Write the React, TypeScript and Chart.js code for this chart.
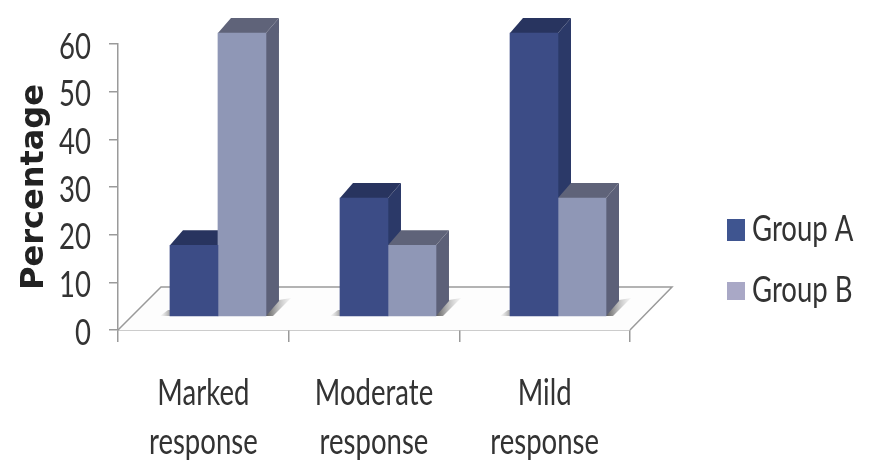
import React, { useEffect, useRef } from "react";
import { Chart, registerables } from "chart.js";

Chart.register(...registerables);

const categories = [
  ["Marked", "response"],
  ["Moderate", "response"],
  ["Mild", "response"],
];
const groupA = [15, 25, 60];
const groupB = [60, 15, 25];
const seriesNames = ["Group A", "Group B"];
const yTicksStep = 10;

const FONT = "Lato, sans-serif";
const TEXT_NARROWING = 0.765;
const TEXT_DROP = 3;
const TEXT = "#333333";
const AXIS = "#9a9a9a";

const FRONT = ["#3c4c86", "#8f97b6"];
const TOP = ["#28345f", "#5f6379"];
const SIDE = ["#2b3968", "#5c6078"];
const MARKER = ["#3f5590", "#a9a8c6"];

const DX = 13;
const DY = -15;
const FLOOR_DX = 43;
const FLOOR_DY = -43;

function poly(ctx: CanvasRenderingContext2D, pts: number[][], fill?: string | CanvasGradient) {
  ctx.beginPath();
  pts.forEach(([x, y], i) => (i ? ctx.lineTo(x, y) : ctx.moveTo(x, y)));
  ctx.closePath();
  if (fill) {
    ctx.fillStyle = fill;
    ctx.fill();
  }
}

// Condensed lettering: no narrow humanist face is available, so Lato runs are squeezed horizontally.
function condenseText(ctx: CanvasRenderingContext2D) {
  const draw = ctx.fillText.bind(ctx);
  ctx.fillText = (text: string, x: number, y: number) => {
    if (!ctx.font.includes("Lato")) {
      draw(text, x, y);
      return;
    }
    ctx.save();
    ctx.translate(x, y + TEXT_DROP);
    ctx.scale(TEXT_NARROWING, 1);
    draw(text, 0, 0);
    ctx.restore();
  };
}

// Floor plane, contact shadows and the extruded faces behind every bar.
const depthPlugin = {
  id: "depth",
  beforeDatasetsDraw(chart: any) {
    const { ctx, chartArea: a } = chart;
    ctx.save();
    poly(
      ctx,
      [
        [a.left, a.bottom],
        [a.left + FLOOR_DX, a.bottom + FLOOR_DY],
        [a.right + FLOOR_DX - 1, a.bottom + FLOOR_DY],
        [a.right, a.bottom],
      ],
      "#fdfdfd"
    );
    ctx.strokeStyle = AXIS;
    ctx.lineWidth = 1.5;
    ctx.beginPath();
    ctx.moveTo(a.left, a.bottom);
    ctx.lineTo(a.left + FLOOR_DX, a.bottom + FLOOR_DY);
    ctx.lineTo(a.right + FLOOR_DX - 1, a.bottom + FLOOR_DY);
    ctx.lineTo(a.right, a.bottom);
    ctx.stroke();

    const metaA = chart.getDatasetMeta(0);
    const metaB = chart.getDatasetMeta(1);
    metaB.data.forEach((bar: any, i: number) => {
      const right = bar.x + bar.width / 2;
      const left = metaA.data[i].x - metaA.data[i].width / 2;
      const base = bar.base;
      const g = ctx.createLinearGradient(right, 0, right + 25, 0);
      g.addColorStop(0, "rgba(70,70,70,0.9)");
      g.addColorStop(1, "rgba(190,190,190,0.15)");
      poly(ctx, [[right - 4, base], [right + 13, base - 16], [right + 25, base - 18], [right + 7, base]], g);
      const g2 = ctx.createLinearGradient(left - 10, 0, left, 0);
      g2.addColorStop(0, "rgba(150,150,150,0)");
      g2.addColorStop(1, "rgba(110,110,110,0.6)");
      poly(ctx, [[left - 10, base], [left - 2, base - 6], [left + 4, base - 6], [left + 4, base]], g2);
    });

    [metaA, metaB].forEach((meta: any, k: number) => {
      meta.data.forEach((bar: any) => {
        const l = bar.x - bar.width / 2;
        const r = bar.x + bar.width / 2;
        const t = bar.y;
        const b = bar.base;
        poly(ctx, [[r, t], [r + DX, t + DY], [r + DX, b + DY], [r, b]], SIDE[k]);
        poly(ctx, [[l, t], [l + DX, t + DY], [r + DX, t + DY], [r, t]], TOP[k]);
      });
    });
    ctx.restore();
  },
};

// Places the legend in the right-hand margin and paints its colour chips.
const legendPlacement = {
  id: "legendPlacement",
  afterLayout(chart: any) {
    const lg = chart.legend;
    if (!lg) return;
    const w = lg.width;
    const h = lg.height;
    lg.left = 708;
    lg.right = 708 + w;
    lg.top = 183;
    lg.bottom = 183 + h;
    lg.adjustHitBoxes();
  },
  afterDraw(chart: any) {
    const lg = chart.legend;
    if (!lg) return;
    const { ctx } = chart;
    lg.legendHitBoxes.forEach((hit: any, i: number) => {
      const cy = hit.top + hit.height / 2 + 4;
      ctx.fillStyle = MARKER[i];
      const h = i === 0 ? 22 : 18;
      ctx.fillRect(727, cy - h / 2, 18, h);
    });
  },
};

export default function App() {
  const ref = useRef<HTMLCanvasElement>(null);

  useEffect(() => {
    condenseText(ref.current!.getContext("2d")!);
    const chart = new Chart(ref.current!, {
      type: "bar",
      data: {
        datasets: [groupA, groupB].map((values, k) => ({
          label: seriesNames[k],
          data: values.map((v, i) => ({ x: i, y: v })),
          backgroundColor: FRONT[k],
          borderWidth: 0,
          barThickness: 48,
          xAxisID: "xBars",
          yAxisID: "yBars",
          clip: false as any,
        })),
      },
      plugins: [depthPlugin, legendPlacement],
      options: {
        animation: false,
        responsive: false,
        layout: { padding: { top: 44, right: 243, bottom: 0, left: 0 } },
        plugins: {
          title: { display: false },
          tooltip: { enabled: false },
          legend: {
            display: true,
            position: "chartArea" as any,
            align: "start",
            labels: {
              boxWidth: 1,
              boxHeight: 1,
              padding: 25,
              color: TEXT,
              font: { family: FONT, size: 36 },
              generateLabels: () =>
                seriesNames.map((text, i) => ({
                  text,
                  fillStyle: "rgba(0,0,0,0)",
                  strokeStyle: "rgba(0,0,0,0)",
                  lineWidth: 0,
                  datasetIndex: i,
                  fontColor: TEXT,
                })),
            },
          },
        },
        scales: {
          x: {
            type: "category",
            labels: categories as any,
            offset: true,
            position: "bottom",
            afterFit: (s: any) => {
              s.height = 131;
            },
            grid: {
              offset: true,
              drawOnChartArea: false,
              tickLength: 12,
              color: AXIS,
              lineWidth: 1.5,
            },
            border: { color: AXIS, width: 1.5 },
            ticks: {
              maxRotation: 0,
              autoSkip: false,
              padding: 24,
              color: TEXT,
              font: { family: FONT, size: 36, lineHeight: 1.36 },
            },
          },
          y: {
            type: "linear",
            min: 0,
            max: 60,
            position: "left",
            afterFit: (s: any) => {
              s.width = 118;
            },
            grid: {
              drawOnChartArea: false,
              tickLength: 9,
              color: AXIS,
              lineWidth: 1.5,
            },
            border: { color: AXIS, width: 1.5 },
            ticks: {
              stepSize: yTicksStep,
              padding: 18,
              color: TEXT,
              font: { family: FONT, size: 36 },
            },
            title: {
              display: true,
              text: "Percentage",
              color: "#222222",
              font: { family: "'DejaVu Sans', sans-serif", size: 32, weight: "bold" },
              padding: { top: 15, bottom: 0 },
            },
          },
          // Scales the bars stand on: the floor sits inside the axis frame.
          xBars: { type: "linear", display: false, offset: false, min: -0.588, max: 2.4235 },
          yBars: { type: "linear", display: false, min: -2.97, max: 57.66 },
        },
      } as any,
    });
    return () => chart.destroy();
  }, []);

  return (
    <div style={{ position: "fixed", left: 0, top: 0, background: "#fff" }}>
      <canvas ref={ref} width={873} height={461} style={{ display: "block" }} />
    </div>
  );
}
